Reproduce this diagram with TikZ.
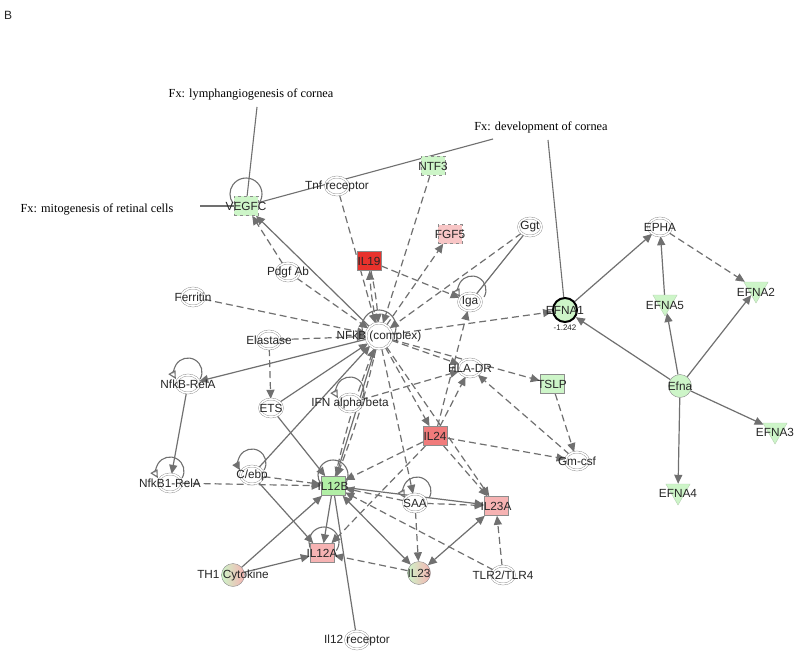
\documentclass[tikz,border=0pt]{standalone}
\usepackage{fontspec}
\setmainfont{Liberation Serif}
\setsansfont{Liberation Sans}
\usepackage{tikz}
\usetikzlibrary{arrows.meta,shapes.geometric,backgrounds}
\definecolor{edgegray}{HTML}{707070}
\definecolor{ringgray}{HTML}{8C8C8C}
\definecolor{palegreen}{HTML}{CDF5C8}
\definecolor{midgreen}{HTML}{B2EFA6}
\definecolor{deepred}{HTML}{E8322C}
\definecolor{midred}{HTML}{F07B7B}
\definecolor{palered}{HTML}{F6B3B3}
\definecolor{lightred}{HTML}{F8C6C6}
\definecolor{txtgray}{HTML}{262626}

\begin{document}
\begin{tikzpicture}[x=1pt, y=1pt,
  lbl/.style={font=\sffamily\fontsize{11.8}{13}\selectfont, text=txtgray, inner sep=0pt},
  fxlbl/.style={font=\rmfamily\fontsize{12.3}{14}\selectfont, inner sep=0pt},
  grp/.style={ellipse, draw=ringgray, fill=white, double=white, double distance=1.6pt,
    minimum width=23pt, minimum height=18pt, inner sep=0pt},
  gene/.style={rectangle, draw=ringgray, line width=0.5pt, minimum width=24pt, minimum height=19pt, inner sep=0pt},
  dgene/.style={gene, dashed},
  ball/.style={circle, draw=ringgray, minimum size=23pt, inner sep=0pt},
  tri/.style={regular polygon, regular polygon sides=3, shape border rotate=180, draw=palegreen!70!gray,
    fill=palegreen, minimum size=28pt, inner sep=0pt},
  link/.style={draw=edgegray, line width=1.2pt},
  arr/.style={link, -{Triangle[length=9pt,width=8pt]}},
  darr/.style={arr, dash pattern=on 7pt off 4pt},
  both/.style={link, {Triangle[length=9pt,width=8pt]}-{Triangle[length=9pt,width=8pt]}},
  fxline/.style={draw=edgegray, line width=1.1pt},
  selfloop/.style={link, line width=1.1pt},
  openloop/.style={selfloop, -{Triangle[open,length=8pt,width=8pt]}},
  fillloop/.style={selfloop, -{Triangle[length=8pt,width=8pt]}}
]
\begin{scope}[on background layer]
\fill[white] (0,0) rectangle (800,-655);
\end{scope}
\useasboundingbox (0,0) rectangle (800,-655);

\node[lbl, anchor=west, font=\sffamily\fontsize{12}{14}\selectfont] (panel) at (4,-15) {B};

\node[fxlbl] (fxlymph) at (251,-94) {Fx: lymphangiogenesis of cornea};
\node[fxlbl] (fxmito) at (97,-209) {Fx: mitogenesis of retinal cells};
\node[fxlbl] (fxdev) at (541,-127) {Fx: development of cornea};
\coordinate (clymph) at (257,-107);
\coordinate (cmito) at (200,-206);
\coordinate (cdev1) at (493,-139);
\coordinate (cdev2) at (548,-140);

\node[dgene, fill=palegreen, label={[lbl]center:VEGFC}] (vegfc) at (246,-206) {};
\node[grp, label={[lbl]center:Tnf receptor}] (tnfr) at (337,-186) {};
\node[dgene, fill=palegreen, label={[lbl]center:NTF3}] (ntf3) at (433,-166) {};
\node[dgene, fill=lightred, label={[lbl]center:FGF5}] (fgf5) at (450,-234) {};
\node[gene, fill=deepred, label={[lbl]center:IL19}] (il19) at (369,-261) {};
\node[grp, label={[lbl]center:Ggt}] (ggt) at (530,-227) {};
\node[grp, label={[lbl]center:Pdgf Ab}] (pdgf) at (288,-272) {};
\node[grp, label={[lbl]center:Ferritin}] (ferritin) at (193,-297) {};
\node[grp, label={[lbl]center:Iga}] (iga) at (470,-302) {};
\node[ball, fill=palegreen, draw=black, line width=2pt, minimum size=24pt, label={[lbl]center:EFNA1}] (efna1) at (565,-310) {};
\node[lbl, font=\sffamily\fontsize{8}{9}\selectfont] (efnaval) at (565,-328) {-1.242};
\node[grp, label={[lbl]center:EPHA}] (epha) at (660,-227) {};
\node[tri, label={[lbl, yshift=-3pt]center:EFNA5}] (efna5) at (665,-302) {};
\node[tri, label={[lbl, yshift=-3pt]center:EFNA2}] (efna2) at (756,-289) {};
\node[ball, fill=palegreen, label={[lbl]center:Efna}] (efna) at (680,-386) {};
\node[tri, label={[lbl, yshift=-2pt]center:EFNA3}] (efna3) at (775,-430) {};
\node[tri, label={[lbl, yshift=-2pt]center:EFNA4}] (efna4) at (678,-491) {};

\node[grp, circle, minimum size=26pt, label={[lbl]center:NFkB (complex)}] (nfkb) at (379,-336) {};
\node[grp, label={[lbl]center:Elastase}] (elastase) at (269,-340) {};
\node[grp, label={[lbl]center:NfkB-RelA}] (nfkbrela) at (188,-384) {};
\node[grp, label={[lbl]center:ETS}] (ets) at (271,-408) {};
\node[grp, label={[lbl]center:IFN alpha/beta}] (ifn) at (350,-403) {};
\node[grp, label={[lbl]center:HLA-DR}] (hladr) at (470,-368) {};
\node[gene, fill=palegreen, label={[lbl]center:TSLP}] (tslp) at (552,-384) {};
\node[gene, fill=midred, label={[lbl]center:IL24}] (il24) at (435,-436) {};
\node[grp, label={[lbl]center:Gm-csf}] (gmcsf) at (577,-461) {};
\node[grp, label={[lbl]center:NfkB1-RelA}] (nfkb1rela) at (170,-483) {};
\node[grp, label={[lbl]center:C/ebp}] (cebp) at (252,-475) {};
\node[gene, fill=midgreen, label={[lbl]center:IL12B}] (il12b) at (333,-486) {};
\node[grp, label={[lbl]center:SAA}] (saa) at (415,-503) {};
\node[gene, fill=palered, label={[lbl]center:IL23A}] (il23a) at (496,-506) {};
\node[gene, fill=palered, label={[lbl]center:IL12A}] (il12a) at (322,-553) {};
\node[ball, left color=palegreen, right color=palered, label={[lbl]center:IL23}] (il23) at (419,-573) {};
\node[ball, left color=palegreen, right color=palered, label={[lbl]center:TH1 Cytokine}] (th1) at (233,-575) {};
\node[grp, label={[lbl]center:TLR2/TLR4}] (tlr) at (503,-575) {};
\node[grp, label={[lbl]center:Il12 receptor}] (il12rec) at (357,-640) {};

\begin{scope}[on background layer]
\draw[fxline] (clymph) -- (vegfc);
\draw[fxline] (cmito) -- (vegfc);
\draw[fxline] (vegfc) -- (cdev1);
\draw[fxline] (cdev2) -- (efna1);
\draw[arr] (nfkb) -- (vegfc);
\draw[darr] (pdgf) -- (vegfc);
\draw[darr] (pdgf) -- (nfkb);
\draw[darr] (tnfr) -- (nfkb);
\draw[darr] (ntf3) -- (nfkb);
\draw[darr] (nfkb) -- (fgf5);
\draw[darr] (nfkb) to[bend left=4] (il19);
\draw[darr] (il19) to[bend left=4] (nfkb);
\draw[darr] (il19) -- (iga);
\draw[darr] (ggt) -- (nfkb);
\draw[link] (ggt) -- (iga);
\draw[darr] (il24) -- (iga);
\draw[darr] (nfkb) -- (efna1);
\draw[darr] (ferritin) -- (nfkb);
\draw[darr] (elastase) -- (nfkb);
\draw[darr] (elastase) -- (ets);
\draw[arr] (nfkb) -- (nfkbrela);
\draw[arr] (nfkbrela) -- (nfkb1rela);
\draw[darr] (nfkb1rela) -- (il12b);
\draw[arr] (ets) -- (nfkb);
\draw[arr] (ets) -- (il12b);
\draw[arr] (cebp) -- (nfkb);
\draw[arr] (cebp) -- (il12a);
\draw[darr] (cebp) -- (il12b);
\draw[arr] (nfkb) -- (il12b);
\draw[darr] (il12b) to[bend left=4] (nfkb);
\draw[darr] (nfkb) to[bend left=4] (il12b);
\draw[darr] (ifn) -- (hladr);
\draw[darr] (nfkb) -- (hladr);
\draw[darr] (nfkb) -- (tslp);
\draw[darr] (tslp) -- (gmcsf);
\draw[darr] (gmcsf) -- (hladr);
\draw[darr] (il24) -- (gmcsf);
\draw[darr] (il24) -- (hladr);
\draw[darr] (nfkb) -- (il24);
\draw[darr] (nfkb) -- (il23a);
\draw[darr] (il24) -- (il23a);
\draw[darr] (il24) -- (il12b);
\draw[darr] (il24) -- (il12a);
\draw[darr] (nfkb) -- (saa);
\draw[darr] (saa) -- (il23);
\draw[darr] (saa) -- (il23a);
\draw[darr] (saa) -- (il12b);
\draw[arr] (il12b) -- (il12a);
\draw[both] (il12b) -- (il23);
\draw[both] (il23a) -- (il23);
\draw[arr] (il12b) -- (il23a);
\draw[darr] (il23) -- (il12a);
\draw[darr] (tlr) -- (il23a);
\draw[darr] (tlr) -- (il12b);
\draw[arr] (th1) -- (il12b);
\draw[arr] (th1) -- (il12a);
\draw[link] (il12rec) -- (il12b);
\draw[arr] (efna1) -- (epha);
\draw[arr] (efna) -- (efna1);
\draw[arr] (efna) -- (efna5);
\draw[arr] (efna5) -- (epha);
\draw[darr] (epha) -- (efna2);
\draw[arr] (efna) -- (efna2);
\draw[arr] (efna) -- (efna3);
\draw[arr] (efna) -- (efna4);
\draw[selfloop] ([shift={(13.1,2.8)}]vegfc.center) arc[start angle=-35, end angle=215, radius=16];
\draw[selfloop] ([shift={(15.4,1.8)}]nfkb.center) arc[start angle=-25, end angle=205, radius=17];
\draw[openloop] ([shift={(14.1,5)}]iga.center) arc[start angle=-30, end angle=210, radius=14];
\draw[openloop] ([shift={(12.1,5)}]nfkbrela.center) arc[start angle=-30, end angle=210, radius=14];
\draw[openloop] ([shift={(12.1,5)}]nfkb1rela.center) arc[start angle=-30, end angle=210, radius=14];
\draw[fillloop] ([shift={(12.1,5)}]cebp.center) arc[start angle=-30, end angle=210, radius=14];
\draw[openloop] ([shift={(12.1,5)}]ifn.center) arc[start angle=-30, end angle=210, radius=14];
\draw[selfloop] ([shift={(12.3,2.4)}]il12b.center) arc[start angle=-35, end angle=215, radius=15];
\draw[openloop] ([shift={(14.1,5)}]saa.center) arc[start angle=-30, end angle=210, radius=14];
\draw[selfloop] ([shift={(14.3,2.4)}]il12a.center) arc[start angle=-35, end angle=215, radius=15];
\end{scope}
\end{tikzpicture}
\end{document}
